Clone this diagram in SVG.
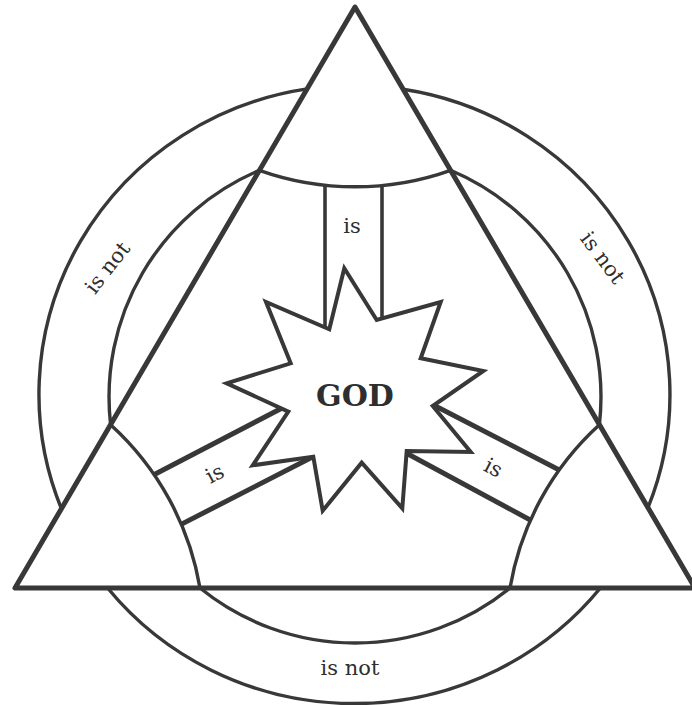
<svg xmlns="http://www.w3.org/2000/svg" width="692" height="705" viewBox="0 0 692 705">
<style>
.ln{fill:none;stroke:#383838;stroke-linecap:round;stroke-linejoin:round}
.circ{stroke-width:3.4}
.tri{stroke-width:5}
.band{stroke-width:5;stroke-linecap:butt}
.bandt{stroke-width:3.6;stroke-linecap:butt}
.cfill{fill:#fff;stroke:none}
.star{fill:#fff;stroke:#383838;stroke-width:4;stroke-linejoin:miter}
.t{font-family:"DejaVu Serif","Liberation Serif",serif;fill:#2e2e2e;font-size:21px;text-anchor:middle}
.god{font-family:"DejaVu Serif","Liberation Serif",serif;fill:#2e2e2e;font-size:30px;font-weight:bold;text-anchor:middle}
</style>
<rect width="692" height="705" fill="#fff"/>

<g id="connectors">
  <line class="ln bandt" x1="325" y1="170" x2="325" y2="345"/>
  <line class="ln bandt" x1="382" y1="170" x2="382" y2="345"/>
  <line class="ln band" x1="135.6" y1="484.2" x2="300" y2="398.7"/>
  <line class="ln band" x1="165.5" y1="532.4" x2="330" y2="448"/>
  <line class="ln band" x1="573.8" y1="477.5" x2="415" y2="395.5"/>
  <line class="ln band" x1="543.6" y1="527.2" x2="395" y2="447"/>
</g>

<g id="outer-circle">
  <path class="ln circ" d="M61.8,509.7 A316,309 0 0 1 307.1,88.9"/>
  <path class="ln circ" d="M403.1,89.3 A316,309 0 0 1 648,507.7"/>
  <path class="ln circ" d="M600.4,588 A316,309 0 0 1 107.6,588"/>
</g>

<g id="inner-circle">
  <path class="ln circ" d="M110.6,424.7 A246,246 0 0 1 259.4,170.3"/>
  <path class="ln circ" d="M450.6,170.3 A246,246 0 0 1 599.4,424.7"/>
  <path class="ln circ" d="M510,588 A246,246 0 0 1 200,588"/>
</g>

<g id="corner-top">
  <path class="cfill" d="M355,7 L259.4,170.3 A285,285 0 0 0 450.6,170.3 Z"/>
  <path class="ln circ" d="M259.4,170.3 A285,285 0 0 0 450.6,170.3"/>
</g>
<g id="corner-left">
  <path class="cfill" d="M15,588 L110.6,424.7 A285,285 0 0 1 200,588 Z"/>
  <path class="ln circ" d="M110.6,424.7 A285,285 0 0 1 200,588"/>
</g>
<g id="corner-right">
  <path class="cfill" d="M695,588 L599.4,424.7 A285,285 0 0 0 510,588 Z"/>
  <path class="ln circ" d="M599.4,424.7 A285,285 0 0 0 510,588"/>
</g>

<g id="triangle">
  <path class="ln tri" d="M355,7 L15,588 L695,588 Z" stroke-linejoin="miter"/>
</g>

<g id="god">
  <polygon class="star" points="344.3,268.3 376.7,320 440.7,302 420.7,358.3 483.3,371 432.7,406 470.7,452 406.7,451 402.3,508.3 361.7,462.7 322.7,510.7 313.3,456.7 252.7,465.3 288.3,411.7 226.7,383.3 290.7,363.3 266,302 329.3,329.3"/>
  <text class="god" x="355" y="406">GOD</text>
</g>

<g id="labels">
  <text class="t" x="352" y="233">is</text>
  <text class="t" transform="translate(218,480) rotate(-28)">is</text>
  <text class="t" transform="translate(490,474) rotate(28)">is</text>
  <text class="t" transform="translate(113,272) rotate(-52)">is not</text>
  <text class="t" transform="translate(597,262) rotate(53)">is not</text>
  <text class="t" x="350" y="675">is not</text>
</g>
</svg>
